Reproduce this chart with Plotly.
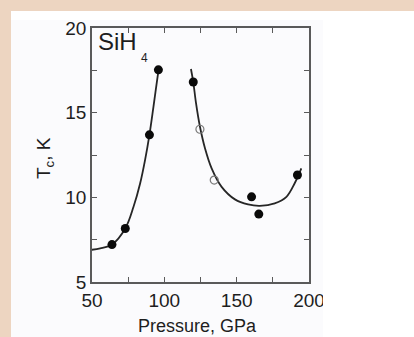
import plotly.graph_objects as go

# ---- data ----
filled_p = [63.8, 73.0, 89.7, 95.9, 120.0, 160.3, 165.3, 192.0]
filled_tc = [7.21, 8.16, 13.69, 17.53, 16.81, 10.03, 9.01, 11.32]
open_p = [124.6, 134.5]
open_tc = [14.02, 11.02]

# fitted guide curves
left_p = [49.5, 55.7, 63.8, 73.0, 78.7, 83.3, 86.7, 89.7, 92.5, 96.0, 96.4]
left_tc = [6.90, 6.98, 7.21, 8.16, 9.44, 10.83, 12.21, 13.69, 15.36, 17.53, 17.73]
right_p = [118.4, 120.0, 121.9, 124.6, 128.1, 132.7, 139.6, 148.8, 157.9, 166.0, 176.3, 184.4, 190.1, 194.7]
right_tc = [17.58, 16.81, 15.56, 14.18, 12.90, 11.71, 10.62, 9.88, 9.58, 9.50, 9.64, 10.03, 10.83, 11.71]

x_ticks = [50, 100, 150, 200]
y_ticks = [5, 10, 15, 20]

W, H = 414, 337
L, R, T, B = 92, 105, 28, 55
PW, PH = W - L - R, H - T - B


def px(X):
    return (X - L) / PW


def py(Y):
    return (H - B - Y) / PH


FONT = "Liberation Sans, Arial, sans-serif"
TXT = "#1e1e1e"
AX = "#5a5a5a"

fig = go.Figure()
fig.add_trace(go.Scatter(x=left_p, y=left_tc, mode="lines",
                         line=dict(color="#262626", width=1.8, shape="spline"),
                         hoverinfo="skip", showlegend=False))
fig.add_trace(go.Scatter(x=right_p, y=right_tc, mode="lines",
                         line=dict(color="#262626", width=1.8, shape="spline"),
                         hoverinfo="skip", showlegend=False))
fig.add_trace(go.Scatter(x=open_p, y=open_tc, mode="markers",
                         marker=dict(symbol="circle-open", size=8, color="#7a7a7a",
                                     line=dict(width=1.2, color="#7a7a7a")),
                         showlegend=False))
fig.add_trace(go.Scatter(x=filled_p, y=filled_tc, mode="markers",
                         marker=dict(symbol="circle", size=9, color="#0a0a0a"),
                         showlegend=False))

axis_common = dict(showline=True, mirror="allticks", linecolor=AX, linewidth=1.6,
                   ticks="inside", ticklen=5, tickwidth=1, tickcolor=AX,
                   showgrid=False, zeroline=False,
                   tickfont=dict(family=FONT, size=19, color=TXT))

fig.update_xaxes(range=[50, 200], tickvals=x_ticks,
                 minor=dict(dtick=25, tick0=50, ticks="inside", ticklen=5, tickcolor=AX, showgrid=False),
                 **axis_common)
fig.update_yaxes(range=[5, 20], tickvals=y_ticks,
                 minor=dict(dtick=2.5, tick0=5, ticks="inside", ticklen=5, tickcolor=AX, showgrid=False),
                 **axis_common)

shapes = [
    dict(type="rect", xref="paper", yref="paper", layer="below",
         x0=px(11), x1=px(W + 5), y0=py(11), y1=py(H + 5),
         fillcolor="#ffffff", line=dict(width=0)),
    dict(type="rect", xref="paper", yref="paper", layer="below",
         x0=px(11), x1=px(323), y0=py(20), y1=py(H + 5),
         fillcolor="#fbfbfd", line=dict(width=0)),
    dict(type="rect", xref="paper", yref="paper", layer="above",
         x0=px(323), x1=px(W + 5), y0=py(284), y1=py(H + 5),
         fillcolor="#ffffff", line=dict(width=0)),
]

annotations = [
    dict(text="SiH", x=px(95.5), y=py(41), xref="paper", yref="paper",
         xanchor="left", yanchor="middle", showarrow=False,
         font=dict(family=FONT, size=24, color=TXT)),
    dict(text="4", x=px(144.7), y=py(57.5), xref="paper", yref="paper",
         xanchor="center", yanchor="middle", showarrow=False,
         font=dict(family=FONT, size=12, color=TXT)),
    dict(text="T<sub>c</sub>, K", x=px(45), y=py(158), xref="paper", yref="paper",
         xanchor="center", yanchor="middle", showarrow=False, textangle=-90,
         font=dict(family=FONT, size=19, color=TXT)),
    dict(text="Pressure, GPa", x=px(197), y=py(326), xref="paper", yref="paper",
         xanchor="center", yanchor="middle", showarrow=False,
         font=dict(family=FONT, size=18, color=TXT)),
]

fig.update_layout(width=W, height=H, margin=dict(l=L, r=R, t=T, b=B, pad=0),
                  paper_bgcolor="#edd5c1", plot_bgcolor="rgba(0,0,0,0)",
                  shapes=shapes, annotations=annotations, showlegend=False)

fig.write_html("out.html", include_plotlyjs=True, full_html=True,
               config=dict(displayModeBar=False))
